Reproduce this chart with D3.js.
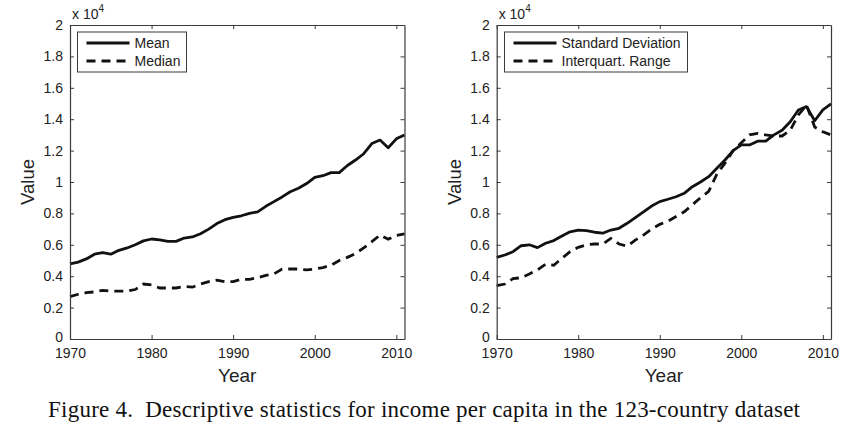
<!DOCTYPE html>
<html>
<head>
<meta charset="utf-8">
<script src="https://cdn.jsdelivr.net/npm/d3@7"></script>
<style>
  html, body { margin: 0; padding: 0; background: #fff; }
  svg { display: block; }
</style>
</head>
<body>
<svg id="chart" width="865" height="430"></svg>
<script>
// ---- Data (values in units of 10^4) ----
const years = d3.range(1970, 2012);

const meanValues = [0.478, 0.49, 0.51, 0.54, 0.55, 0.54, 0.565, 0.58, 0.60, 0.625,
  0.637, 0.632, 0.622, 0.622, 0.643, 0.65, 0.67, 0.70, 0.735, 0.76,
  0.775, 0.785, 0.80, 0.81, 0.845, 0.875, 0.905, 0.938, 0.96, 0.99,
  1.03, 1.04, 1.06, 1.06, 1.105, 1.14, 1.18, 1.245, 1.267, 1.218,
  1.275, 1.30];

const medianValues = [0.27, 0.285, 0.295, 0.30, 0.31, 0.305, 0.305, 0.305, 0.315, 0.35,
  0.345, 0.325, 0.325, 0.325, 0.335, 0.33, 0.35, 0.365, 0.375, 0.365,
  0.365, 0.38, 0.38, 0.39, 0.405, 0.415, 0.445, 0.446, 0.446, 0.44,
  0.446, 0.455, 0.47, 0.50, 0.52, 0.545, 0.58, 0.62, 0.662, 0.635,
  0.66, 0.67];

const sdValues = [0.52, 0.535, 0.556, 0.594, 0.60, 0.582, 0.61, 0.627, 0.656, 0.683,
  0.694, 0.69, 0.68, 0.674, 0.694, 0.705, 0.737, 0.773, 0.81, 0.847,
  0.875, 0.89, 0.906, 0.928, 0.97, 1.0, 1.034, 1.087, 1.14, 1.20,
  1.236, 1.236, 1.26, 1.26, 1.30, 1.33, 1.384, 1.459, 1.48, 1.39,
  1.459, 1.497];

const iqrValues = [0.34, 0.35, 0.385, 0.39, 0.414, 0.44, 0.476, 0.47, 0.514, 0.556,
  0.584, 0.60, 0.605, 0.605, 0.641, 0.605, 0.592, 0.63, 0.662, 0.70,
  0.73, 0.75, 0.78, 0.81, 0.855, 0.90, 0.94, 1.05, 1.12, 1.20,
  1.25, 1.30, 1.31, 1.30, 1.293, 1.293, 1.33, 1.427, 1.49, 1.35,
  1.32, 1.30];

const yTicks = [0, 0.2, 0.4, 0.6, 0.8, 1, 1.2, 1.4, 1.6, 1.8, 2];
const xTicks = [1970, 1980, 1990, 2000, 2010];

const leftLegend = ["Mean", "Median"];
const rightLegend = ["Standard Deviation", "Interquart. Range"];
const xLabel = "Year";
const yLabel = "Value";
const caption = "Figure 4.\u00A0\u00A0Descriptive statistics for income per capita in the 123-country dataset";

// ---- Drawing ----
const svg = d3.select("#chart");
const sansFont = "Liberation Sans, Arial, Helvetica, sans-serif";
const axisColor = "#3a3a3a";
const lineColor = "#111";

function drawPanel(p) {
  const g = svg.append("g");
  const x = d3.scaleLinear().domain([1970, 2011]).range([p.left, p.right]);
  const y = d3.scaleLinear().domain([0, 2]).range([p.bottom, p.top]);

  // data lines
  const line = d3.line().x((d, i) => x(years[i])).y(d => y(d));
  g.append("path").datum(p.series[0])
    .attr("d", line).attr("fill", "none")
    .attr("stroke", lineColor).attr("stroke-width", 2.8)
    .attr("stroke-linejoin", "round");
  g.append("path").datum(p.series[1])
    .attr("d", line).attr("fill", "none")
    .attr("stroke", lineColor).attr("stroke-width", 2.8)
    .attr("stroke-dasharray", "9,6");

  // axes (box with inward ticks on all sides)
  const tl = 4;
  const axB = d3.axisBottom(x).tickValues(xTicks).tickFormat(d3.format("d"))
    .tickSizeInner(-tl).tickSizeOuter(0).tickPadding(8);
  const axT = d3.axisTop(x).tickValues(xTicks).tickFormat("")
    .tickSizeInner(-tl).tickSizeOuter(0);
  const axL = d3.axisLeft(y).tickValues(yTicks).tickFormat(d => d3.format("~g")(d))
    .tickSizeInner(-tl).tickSizeOuter(0).tickPadding(7);
  const axR = d3.axisRight(y).tickValues(yTicks).tickFormat("")
    .tickSizeInner(-tl).tickSizeOuter(0);

  const gb = g.append("g").attr("transform", `translate(0,${p.bottom})`).call(axB);
  const gt = g.append("g").attr("transform", `translate(0,${p.top})`).call(axT);
  const gl = g.append("g").attr("transform", `translate(${p.left},0)`).call(axL);
  const gr = g.append("g").attr("transform", `translate(${p.right},0)`).call(axR);
  [gb, gt, gl, gr].forEach(a => {
    a.select(".domain").attr("stroke", axisColor).attr("stroke-width", 1.2);
    a.selectAll(".tick line").attr("stroke", axisColor).attr("stroke-width", 1);
    a.selectAll(".tick text").attr("fill", "#222")
      .attr("font-family", sansFont).attr("font-size", 14);
  });
  gb.selectAll(".tick text").attr("dy", "0.71em").attr("y", 9);
  gl.selectAll(".tick text").filter(d => d === 0).attr("dy", "0.2em");

  // exponent label
  const ex = g.append("text").attr("x", p.left + 2).attr("y", 19)
    .attr("font-family", sansFont).attr("font-size", 14).attr("fill", "#222");
  ex.append("tspan").text("x 10");
  ex.append("tspan").attr("dy", -7).attr("font-size", 10).text("4");

  // axis labels
  g.append("text").attr("x", (p.left + p.right) / 2).attr("y", p.bottom + 43)
    .attr("text-anchor", "middle").attr("font-family", sansFont)
    .attr("font-size", 19).attr("fill", "#222").text(xLabel);
  g.append("text")
    .attr("transform", `translate(${p.left - 36},${(p.top + p.bottom) / 2}) rotate(-90)`)
    .attr("text-anchor", "middle").attr("font-family", sansFont)
    .attr("font-size", 18.5).attr("fill", "#222").text(yLabel);

  // legend
  const lg = g.append("g");
  lg.append("rect").attr("x", p.legX).attr("y", 32)
    .attr("width", p.legW).attr("height", 40)
    .attr("fill", "#fff").attr("stroke", axisColor).attr("stroke-width", 1);
  p.legend.forEach((name, i) => {
    const yy = 43 + i * 18;
    lg.append("line").attr("x1", p.legX + 9).attr("x2", p.legX + 52)
      .attr("y1", yy).attr("y2", yy)
      .attr("stroke", lineColor).attr("stroke-width", 2.8)
      .attr("stroke-dasharray", i === 1 ? "9,6" : null);
    lg.append("text").attr("x", p.legX + 57).attr("y", yy + 5)
      .attr("font-family", sansFont).attr("font-size", 14).attr("fill", "#222")
      .text(name);
  });
}

drawPanel({ left: 70, right: 404.5, top: 25, bottom: 339,
  series: [meanValues, medianValues], legend: leftLegend, legX: 77.5, legW: 109 });
drawPanel({ left: 496.7, right: 831, top: 25, bottom: 339,
  series: [sdValues, iqrValues], legend: rightLegend, legX: 504.5, legW: 183 });

svg.append("text").attr("x", 48).attr("y", 417)
  .attr("font-family", "Liberation Serif, Times New Roman, serif")
  .attr("font-size", 23).attr("fill", "#111")
  .attr("textLength", 752).attr("lengthAdjust", "spacing")
  .text(caption);
</script>
</body>
</html>
